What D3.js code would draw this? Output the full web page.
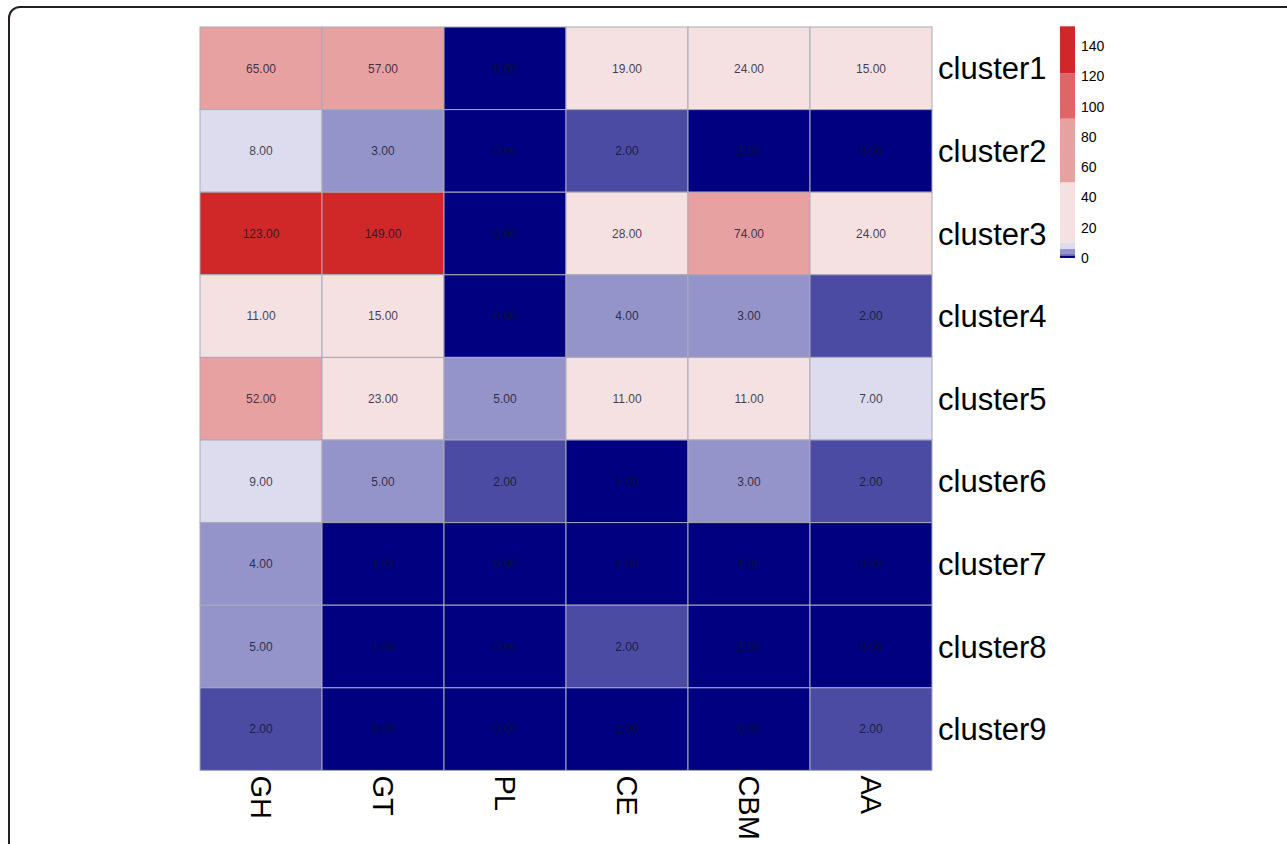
<!DOCTYPE html>
<html>
<head>
<meta charset="utf-8">
<script src="https://cdn.jsdelivr.net/npm/d3@7"></script>
<style>
  html, body { margin: 0; padding: 0; background: #fff; }
  svg { display: block; }
  text { font-family: Arial, "Liberation Sans", sans-serif; }
</style>
</head>
<body>
<svg id="chart" width="1287" height="844"></svg>
<script>
// ---- data ----
const columns = ["GH", "GT", "PL", "CE", "CBM", "AA"];
const rows = ["cluster1", "cluster2", "cluster3", "cluster4", "cluster5",
              "cluster6", "cluster7", "cluster8", "cluster9"];
const cluster1 = [65, 57, 0, 19, 24, 15];
const cluster2 = [8, 3, 0, 2, 1, 0];
const cluster3 = [123, 149, 0, 28, 74, 24];
const cluster4 = [11, 15, 0, 4, 3, 2];
const cluster5 = [52, 23, 5, 11, 11, 7];
const cluster6 = [9, 5, 2, 1, 3, 2];
const cluster7 = [4, 1, 0, 1, 1, 0];
const cluster8 = [5, 1, 0, 2, 1, 0];
const cluster9 = [2, 0, 0, 1, 0, 2];
const values = [cluster1, cluster2, cluster3, cluster4, cluster5,
                cluster6, cluster7, cluster8, cluster9];
const colorBreaks = [1.5, 2.5, 6, 10, 50, 92, 122];
const colorBins = ["#000080", "#4b4ba3", "#9494cb", "#dcdcee",
                   "#f5e1e1", "#e8a1a1", "#dd6767", "#d02828"];
const legendTicks = [0, 20, 40, 60, 80, 100, 120, 140];
const legendMax = 153;

// ---- layout ----
const svg = d3.select("#chart");
const gridLeft = 200, gridTop = 27, cellW = 122, cellH = 82.6;

// frame
svg.append("rect")
  .attr("x", 9).attr("y", 7).attr("width", 1320).attr("height", 900)
  .attr("rx", 11).attr("ry", 11)
  .attr("fill", "none").attr("stroke", "#231f20").attr("stroke-width", 2);

const x = d3.scaleBand().domain(columns)
  .range([gridLeft, gridLeft + cellW * columns.length]).padding(0);
const y = d3.scaleBand().domain(rows)
  .range([gridTop, gridTop + cellH * rows.length]).padding(0);
const color = d3.scaleThreshold().domain(colorBreaks).range(colorBins);

const cells = [];
rows.forEach((r, i) => columns.forEach((c, j) => cells.push({ r, c, v: values[i][j] })));

const g = svg.append("g");
g.selectAll("rect.cell").data(cells).join("rect")
  .attr("class", "cell")
  .attr("x", d => x(d.c)).attr("y", d => y(d.r))
  .attr("width", x.bandwidth()).attr("height", y.bandwidth())
  .attr("fill", d => color(d.v))
  .attr("stroke", "#a9a9b8").attr("stroke-width", 1);

g.selectAll("text.val").data(cells).join("text")
  .attr("class", "val")
  .attr("x", d => x(d.c) + x.bandwidth() / 2)
  .attr("y", d => y(d.r) + y.bandwidth() / 2)
  .attr("dy", "0.35em")
  .attr("text-anchor", "middle")
  .attr("font-size", 12)
  .attr("fill", "#10102a").attr("fill-opacity", 0.8)
  .text(d => d.v.toFixed(2));

// row labels (right)
const yAxis = d3.axisRight(y).tickSize(0).tickPadding(6);
const ya = svg.append("g")
  .attr("transform", `translate(${gridLeft + cellW * columns.length},0)`)
  .call(yAxis);
ya.select(".domain").remove();
ya.selectAll("text").attr("font-size", 31).attr("fill", "#000")
  .attr("dy", "0.36em")
  .attr("font-family", "Arial, 'Liberation Sans', sans-serif");

// column labels (bottom, rotated)
const xAxis = d3.axisBottom(x).tickSize(0).tickPadding(0);
const xa = svg.append("g")
  .attr("transform", `translate(0,${gridTop + cellH * rows.length})`)
  .call(xAxis);
xa.select(".domain").remove();
xa.selectAll("text")
  .attr("font-size", 29).attr("fill", "#000")
  .attr("font-family", "Arial, 'Liberation Sans', sans-serif")
  .attr("text-anchor", "start")
  .attr("dy", "0.35em")
  .attr("transform", "translate(0,5) rotate(90)")
  .attr("x", 0).attr("y", 0);

// legend
const ly = d3.scaleLinear().domain([0, 140]).range([258, 46]);
const edges = [0, ...colorBreaks, legendMax];
const legendBins = colorBins.map((c, i) => ({ lo: edges[i], hi: edges[i + 1], c }));
const lg = svg.append("g");
lg.selectAll("rect").data(legendBins).join("rect")
  .attr("x", 1060).attr("width", 15)
  .attr("y", d => ly(d.hi)).attr("height", d => ly(d.lo) - ly(d.hi))
  .attr("fill", d => d.c);
const la = svg.append("g").attr("transform", "translate(1075,0)")
  .call(d3.axisRight(ly).tickValues(legendTicks).tickSize(0).tickPadding(6));
la.select(".domain").remove();
la.selectAll("text").attr("font-size", 14).attr("fill", "#000")
  .attr("font-family", "Arial, 'Liberation Sans', sans-serif");
</script>
</body>
</html>
